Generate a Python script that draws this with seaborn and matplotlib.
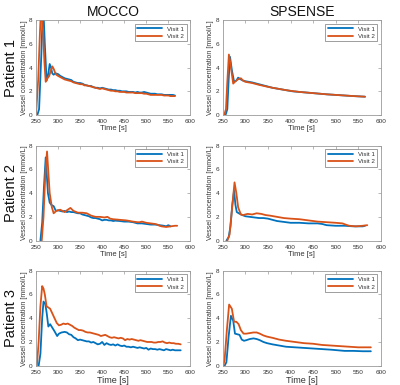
import matplotlib
matplotlib.use("Agg")
import matplotlib.pyplot as plt
import seaborn as sns
import pandas as pd

sns.set_theme(style="white")
plt.rcParams['font.family'] = ['Liberation Sans', 'DejaVu Sans']

# ---------------- data ----------------
# Patient 1, MOCCO
p1_moc_t1 = [253, 257, 262, 266, 270, 274, 278, 281, 284, 287, 290, 293, 296, 300, 305, 310, 315, 320, 325, 330,
             335, 340, 345, 350, 355, 360, 365, 370, 375, 380, 385, 390, 395, 400, 405, 410, 415, 420, 425, 430,
             435, 440, 445, 450, 455, 460, 465, 470, 475, 480, 485, 490, 495, 500, 505, 510, 515, 520, 525, 530,
             535, 540, 545, 550, 555, 560, 565]
p1_moc_v1 = [0, 0.5, 5, 9.5, 6, 2.9, 3.5, 4.3, 4.0, 3.5, 3.4, 3.5, 3.5, 3.45, 3.3, 3.2, 3.1, 3.05, 3.0, 2.95,
             2.8, 2.75, 2.7, 2.7, 2.65, 2.55, 2.5, 2.45, 2.45, 2.35, 2.3, 2.3, 2.25, 2.3, 2.25, 2.2, 2.15, 2.15, 2.1, 2.1,
             2.05, 2.05, 2.0, 2.0, 2.0, 1.95, 1.95, 1.95, 1.9, 1.95, 1.9, 1.9, 1.95, 1.9, 1.85, 1.8, 1.8, 1.8, 1.75, 1.75,
             1.75, 1.7, 1.7, 1.7, 1.7, 1.7, 1.65]
p1_moc_t2 = [250, 255, 259, 262, 266, 269, 272, 276, 280, 284, 287, 290, 293, 296, 300, 305, 310, 315, 320, 325,
             330, 335, 340, 345, 350, 355, 360, 365, 370, 375, 380, 385, 390, 395, 400, 405, 410, 415, 420, 425,
             430, 435, 440, 445, 450, 455, 460, 465, 470, 475, 480, 485, 490, 495, 500, 505, 510, 515, 520, 525,
             530, 535, 540, 545, 550, 555, 560, 565]
p1_moc_v2 = [0, 3, 7, 9.5, 7, 4.5, 2.8, 3.1, 3.3, 3.8, 4.1, 3.9, 3.6, 3.4, 3.3, 3.2, 3.1, 3.0, 2.95, 2.9,
             2.85, 2.75, 2.7, 2.65, 2.6, 2.6, 2.5, 2.5, 2.45, 2.4, 2.35, 2.3, 2.25, 2.2, 2.25, 2.2, 2.15, 2.1, 2.05, 2.05,
             2.0, 2.0, 1.95, 1.95, 1.95, 1.9, 1.9, 1.9, 1.9, 1.85, 1.85, 1.85, 1.85, 1.8, 1.8, 1.75, 1.7, 1.7, 1.7, 1.7,
             1.7, 1.7, 1.65, 1.65, 1.65, 1.6, 1.6, 1.6]

# Patient 1, SPSENSE
p1_sps_t1 = [256, 260, 263, 266, 270, 275, 280, 284, 290, 295, 300, 315, 330, 345, 360, 375, 390, 405, 420, 435,
             450, 465, 480, 500, 520, 540, 565]
p1_sps_v1 = [0, 0.5, 3.0, 4.9, 3.8, 2.8, 2.9, 3.15, 3.0, 2.9, 2.85, 2.75, 2.6, 2.45, 2.3, 2.2, 2.1, 2.0, 1.95, 1.9,
             1.85, 1.8, 1.75, 1.7, 1.65, 1.6, 1.55]
p1_sps_t2 = [253, 257, 260, 263.5, 267, 273, 278, 283, 290, 295, 300, 315, 330, 345, 360, 375, 390, 405, 420, 435,
             450, 465, 480, 500, 520, 540, 565]
p1_sps_v2 = [0, 0.5, 2.8, 5.1, 4.3, 2.65, 2.85, 3.0, 3.1, 2.9, 2.8, 2.7, 2.55, 2.42, 2.3, 2.2, 2.1, 2.02, 1.95, 1.9,
             1.85, 1.8, 1.75, 1.7, 1.65, 1.6, 1.55]

# Patient 2, MOCCO
p2_moc_t1 = [260, 264, 268, 272, 277, 281, 285, 290, 295, 300, 305, 310, 315, 320, 325, 330, 335, 340, 345, 350,
             355, 360, 365, 370, 375, 380, 385, 390, 395, 400, 405, 410, 415, 420, 425, 430, 440, 450, 460, 470,
             480, 490, 500, 510, 520, 530, 540, 545, 550, 555]
p2_moc_v1 = [0, 1.5, 4.5, 7.0, 4.0, 3.2, 3.0, 2.9, 2.5, 2.55, 2.5, 2.45, 2.5, 2.4, 2.45, 2.4, 2.4, 2.35, 2.3, 2.3,
             2.2, 2.15, 2.1, 2.05, 1.95, 1.9, 1.9, 1.85, 1.8, 1.7, 1.75, 1.75, 1.7, 1.7, 1.65, 1.68, 1.65, 1.6, 1.6, 1.55,
             1.45, 1.45, 1.4, 1.35, 1.35, 1.3, 1.25, 1.2, 1.3, 1.2]
p2_moc_t2 = [263, 267, 271, 275, 281, 286, 290, 296, 300, 305, 310, 315, 320, 328, 335, 345, 355, 365, 375, 385,
             395, 405, 412, 418, 425, 440, 455, 470, 480, 485, 490, 500, 510, 520, 525, 530, 535, 545, 555, 565, 570]
p2_moc_v2 = [0, 2.0, 5.5, 7.5, 4.0, 2.8, 2.3, 2.5, 2.55, 2.6, 2.5, 2.4, 2.55, 2.75, 2.5, 2.35, 2.35, 2.3, 2.1, 2.0,
             2.0, 1.95, 2.0, 1.85, 1.8, 1.75, 1.7, 1.6, 1.55, 1.55, 1.6, 1.5, 1.45, 1.4, 1.35, 1.25, 1.2, 1.15, 1.2, 1.25, 1.25]

# Patient 2, SPSENSE
p2_sps_t1 = [258, 263, 267, 271, 275, 278, 281, 290, 300, 310, 320, 330, 340, 350, 360, 370, 380, 390, 400, 420,
             440, 460, 470, 480, 500, 520, 540, 560, 565]
p2_sps_v1 = [0, 0.3, 1.2, 3.0, 4.2, 3.0, 2.4, 2.2, 2.05, 2.0, 1.95, 1.9, 1.9, 1.85, 1.75, 1.65, 1.6, 1.55, 1.5, 1.5,
             1.45, 1.45, 1.4, 1.3, 1.25, 1.25, 1.2, 1.2, 1.25]
p2_sps_t2 = [260, 265, 270, 276, 280, 284, 290, 295, 305, 315, 325, 335, 345, 355, 370, 385, 400, 420, 440, 460,
             480, 500, 515, 522, 530, 545, 560, 570]
p2_sps_v2 = [0, 0.5, 2.5, 4.9, 4.0, 2.8, 2.2, 2.15, 2.25, 2.2, 2.3, 2.25, 2.15, 2.1, 2.0, 1.9, 1.85, 1.8, 1.7, 1.6,
             1.55, 1.5, 1.45, 1.35, 1.25, 1.2, 1.25, 1.3]

# Patient 3, MOCCO
p3_moc_t1 = [256, 260, 264, 267, 271, 274, 278, 282, 287, 292, 298, 302, 308, 315, 320, 325, 330, 335, 340, 345,
             350, 355, 360, 365, 370, 375, 380, 385, 390, 395, 400, 405, 410, 415, 420, 425, 430, 435, 440, 445,
             450, 455, 460, 465, 470, 475, 480, 485, 490, 495, 500, 505, 510, 515, 520, 525, 530, 535, 540, 545,
             550, 555, 560, 565, 570, 578]
p3_moc_v1 = [0, 1.0, 4.0, 5.4, 5.2, 4.5, 3.3, 3.5, 3.2, 2.9, 2.5, 2.7, 2.8, 2.85, 2.8, 2.65, 2.6, 2.4, 2.3, 2.15,
             2.2, 2.15, 2.1, 2.05, 2.05, 1.95, 2.0, 1.9, 1.8, 1.85, 2.0, 1.75, 1.9, 1.8, 1.75, 1.8, 1.7, 1.8, 1.7, 1.65,
             1.7, 1.6, 1.6, 1.55, 1.6, 1.55, 1.5, 1.55, 1.5, 1.45, 1.5, 1.35, 1.45, 1.4, 1.4, 1.35, 1.4, 1.35, 1.3, 1.4,
             1.35, 1.3, 1.35, 1.3, 1.3, 1.3]
p3_moc_t2 = [252, 256, 260, 264, 267, 270, 274, 278, 282, 287, 292, 297, 302, 307, 312, 317, 322, 327, 332, 337,
             342, 347, 352, 357, 362, 367, 372, 377, 382, 387, 392, 397, 402, 407, 412, 417, 422, 427, 432, 437,
             442, 447, 452, 457, 462, 467, 472, 477, 482, 487, 492, 497, 502, 507, 512, 517, 522, 527, 532, 537,
             542, 547, 552, 557, 562, 567, 572, 578]
p3_moc_v2 = [0, 2.0, 5.0, 6.7, 6.5, 6.0, 5.0, 4.9, 4.8, 4.4, 4.0, 3.6, 3.4, 3.45, 3.55, 3.5, 3.55, 3.45, 3.35, 3.2,
             3.1, 3.0, 3.0, 2.95, 2.85, 2.8, 2.8, 2.75, 2.7, 2.65, 2.6, 2.5, 2.55, 2.6, 2.5, 2.4, 2.35, 2.4, 2.35, 2.3,
             2.35, 2.3, 2.15, 2.25, 2.2, 2.25, 2.2, 2.15, 2.1, 2.15, 2.1, 2.05, 2.0, 2.0, 2.0, 1.95, 1.95, 2.0, 2.0, 2.05,
             1.95, 1.9, 1.95, 1.9, 1.9, 1.85, 1.85, 1.8]

# Patient 3, SPSENSE
p3_sps_t1 = [254, 258, 263, 268, 273, 277, 282, 287, 292, 297, 302, 310, 318, 325, 332, 340, 348, 360, 375, 390,
             410, 430, 450, 470, 490, 505, 520, 540, 560, 578]
p3_sps_v1 = [0, 0.3, 2.5, 4.2, 3.8, 2.7, 2.65, 2.6, 2.2, 2.1, 2.15, 2.25, 2.3, 2.25, 2.15, 2.0, 1.9, 1.8, 1.7, 1.6,
             1.55, 1.5, 1.45, 1.4, 1.35, 1.3, 1.25, 1.25, 1.22, 1.22]
p3_sps_t2 = [251, 254, 259, 264, 270, 275, 280, 285, 290, 296, 302, 310, 318, 325, 332, 340, 348, 360, 375, 390,
             410, 430, 450, 470, 490, 510, 530, 550, 570, 578]
p3_sps_v2 = [0, 0.5, 3.0, 5.15, 4.8, 3.7, 3.7, 3.5, 3.0, 2.7, 2.7, 2.75, 2.8, 2.8, 2.7, 2.55, 2.45, 2.35, 2.2, 2.1,
             2.0, 1.9, 1.85, 1.75, 1.7, 1.65, 1.6, 1.55, 1.55, 1.55]

col_titles = ["MOCCO", "SPSENSE"]
row_titles = ["Patient 1", "Patient 2", "Patient 3"]
visit_labels = ["Visit 1", "Visit 2"]
x_ticks = [250, 300, 350, 400, 450, 500, 550, 600]
y_ticks = [0, 2, 4, 6, 8]

panels = [
    [(p1_moc_t1, p1_moc_v1, p1_moc_t2, p1_moc_v2), (p1_sps_t1, p1_sps_v1, p1_sps_t2, p1_sps_v2)],
    [(p2_moc_t1, p2_moc_v1, p2_moc_t2, p2_moc_v2), (p2_sps_t1, p2_sps_v1, p2_sps_t2, p2_sps_v2)],
    [(p3_moc_t1, p3_moc_v1, p3_moc_t2, p3_moc_v2), (p3_sps_t1, p3_sps_v1, p3_sps_t2, p3_sps_v2)],
]

palette = {"Visit 1": "#0072BD", "Visit 2": "#D95319"}

# ---------------- figure ----------------
fig = plt.figure(figsize=(4.0, 3.85), dpi=100)
lefts = [0.09, 0.557]
widths = [0.386, 0.395]
bottoms = [0.701, 0.375, 0.050]
height = 0.247

axis_gray = "#9a9a9a"
text_gray = "#333333"

for r in range(3):
    for c in range(2):
        ax = fig.add_axes([lefts[c], bottoms[r], widths[c], height])
        t1, v1, t2, v2 = panels[r][c]
        df = pd.concat([
            pd.DataFrame({"Time": t1, "Conc": v1, "Visit": visit_labels[0]}),
            pd.DataFrame({"Time": t2, "Conc": v2, "Visit": visit_labels[1]}),
        ], ignore_index=True)
        sns.lineplot(data=df, x="Time", y="Conc", hue="Visit", palette=palette,
                     linewidth=1.3, ax=ax, estimator=None, sort=False)
        ax.set_xlim(250, 600)
        ax.set_ylim(0, 8)
        ax.set_xticks(x_ticks)
        ax.set_yticks(y_ticks)
        ax.tick_params(direction="in", length=2, width=0.5, top=True, right=True,
                       labelsize=4.6, colors=axis_gray, labelcolor=text_gray)
        ax.tick_params(axis="x", pad=2.8)
        ax.tick_params(axis="y", pad=2.5)
        for s in ax.spines.values():
            s.set_color(axis_gray)
            s.set_linewidth(0.6)
        ax.set_xlabel("Time [s]", fontsize=5.5 if r < 2 else 6.5, color=text_gray, labelpad=0.8)
        ax.set_ylabel("Vessel concentration [mmol/L]", fontsize=5, color=text_gray, labelpad=1)
        if r == 0:
            ax.set_title(col_titles[c], fontsize=10, color="#111111", pad=3)
        if c == 0:
            ax.text(-0.165, 0.5, row_titles[r], transform=ax.transAxes, rotation=90,
                    fontsize=10.5, ha="center", va="center", color="#111111")
        leg = ax.legend(loc="upper right", fontsize=4.5, frameon=True, fancybox=False,
                        handlelength=4, handletextpad=0.8, borderpad=0.4, labelspacing=0.3,
                        borderaxespad=0.6)
        leg.get_frame().set_edgecolor("#555555")
        leg.get_frame().set_linewidth(0.5)
        for line in leg.get_lines():
            line.set_linewidth(1.3)
        for txt in leg.get_texts():
            txt.set_color(text_gray)

fig.savefig("out.png", dpi=100)
